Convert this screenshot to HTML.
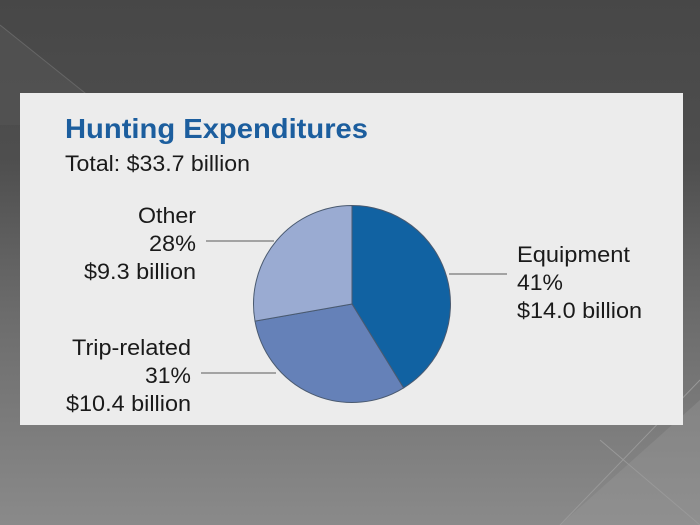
<!DOCTYPE html>
<html><head><meta charset="utf-8"><style>
html,body{margin:0;padding:0;width:700px;height:525px;overflow:hidden;}
body{background:linear-gradient(#474747 0%,#4e4e4e 30%,#6c6c6c 60%,#8a8a8a 100%);position:relative;font-family:"Liberation Sans",sans-serif;}
svg{position:absolute;left:0;top:0;}
</style></head><body>
<svg width="700" height="525" viewBox="0 0 700 525">
<polygon points="0,25 125,125 0,125" fill="#555" opacity="0.6"/>
<line x1="0" y1="25" x2="125" y2="125" stroke="#666" stroke-width="1"/>
<polygon points="560,525 700,400 700,525" fill="#9a9a9a" opacity="0.35"/>
<line x1="560" y1="525" x2="700" y2="380" stroke="#999" stroke-width="1"/>
<line x1="600" y1="440" x2="700" y2="525" stroke="#999" stroke-width="1"/>
<rect x="20" y="93" width="663" height="332" fill="#ececec"/>
<text x="65" y="138" font-size="28" font-weight="bold" fill="#1c5e9e" textLength="303" lengthAdjust="spacingAndGlyphs">Hunting Expenditures</text>
<text x="65" y="171" font-size="22" fill="#1a1a1a" textLength="185" lengthAdjust="spacingAndGlyphs">Total: $33.7 billion</text>
<g font-size="22.5" fill="#1a1a1a">
<text x="138" y="223" textLength="58" lengthAdjust="spacingAndGlyphs">Other</text>
<text x="149" y="251" textLength="47" lengthAdjust="spacingAndGlyphs">28%</text>
<text x="84" y="279" textLength="112" lengthAdjust="spacingAndGlyphs">$9.3 billion</text>
<text x="72" y="355" textLength="119" lengthAdjust="spacingAndGlyphs">Trip-related</text>
<text x="145" y="383" textLength="46" lengthAdjust="spacingAndGlyphs">31%</text>
<text x="66" y="411" textLength="125" lengthAdjust="spacingAndGlyphs">$10.4 billion</text>
<text x="517" y="262" textLength="113" lengthAdjust="spacingAndGlyphs">Equipment</text>
<text x="517" y="290" textLength="46" lengthAdjust="spacingAndGlyphs">41%</text>
<text x="517" y="318" textLength="125" lengthAdjust="spacingAndGlyphs">$14.0 billion</text>
</g>
<g stroke="#777" stroke-width="1.2">
<line x1="206" y1="241" x2="274" y2="241"/>
<line x1="201" y1="373" x2="276" y2="373"/>
<line x1="449" y1="274" x2="507" y2="274"/>
</g>
<g stroke="#4a5a70" stroke-width="1">
<path d="M352,304 L352,205.5 A98.5,98.5 0 0 1 403.6,387.9 Z" fill="#1162a2"/>
<path d="M352,304 L403.6,387.9 A98.5,98.5 0 0 1 255,321.1 Z" fill="#6581b8"/>
<path d="M352,304 L255,321.1 A98.5,98.5 0 0 1 352,205.5 Z" fill="#9aabd2"/>
</g>
</svg>
</body></html>
